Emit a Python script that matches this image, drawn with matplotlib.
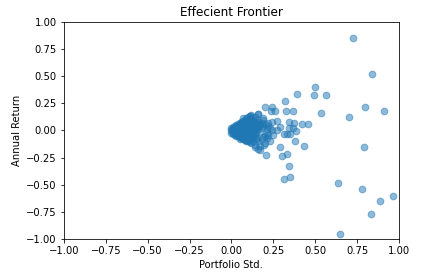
import matplotlib
matplotlib.use("Agg")
import matplotlib.pyplot as plt

# dense cluster near the origin
cluster_std = [0.00, 0.00, 0.00, 0.01, 0.01, 0.01, 0.02, 0.02, 0.02, 0.02,
               0.03, 0.03, 0.03, 0.03, 0.04, 0.04, 0.04, 0.04, 0.04, 0.05,
               0.05, 0.05, 0.05, 0.05, 0.06, 0.06, 0.06, 0.06, 0.06, 0.06,
               0.07, 0.07, 0.07, 0.07, 0.07, 0.07, 0.08, 0.08, 0.08, 0.08,
               0.08, 0.08, 0.08, 0.09, 0.09, 0.09, 0.09, 0.09, 0.09, 0.09,
               0.10, 0.10, 0.10, 0.10, 0.10, 0.10, 0.10, 0.11, 0.11, 0.11,
               0.11, 0.11, 0.11, 0.12, 0.12, 0.12, 0.12, 0.12, 0.12, 0.13,
               0.13, 0.13, 0.13, 0.13, 0.14, 0.14, 0.14, 0.14, 0.14, 0.14,
               0.15, 0.15, 0.15, 0.15, 0.16, 0.16, 0.16, 0.16, 0.16, 0.17,
               0.17, 0.17, 0.18, 0.18, 0.18, 0.19, 0.19, 0.20, 0.20, 0.21,
               0.22, 0.23, 0.21, 0.07, 0.12, 0.05, 0.09,
               0.005, 0.005, 0.015, 0.015, 0.025, 0.025, 0.025, 0.035, 0.035, 0.035,
               0.045, 0.045, 0.045, 0.045, 0.055, 0.055, 0.055, 0.055, 0.065, 0.065,
               0.065, 0.065, 0.065, 0.075, 0.075, 0.075, 0.075, 0.075, 0.085, 0.085,
               0.085, 0.085, 0.085, 0.095, 0.095, 0.095, 0.095, 0.095, 0.105, 0.105,
               0.105, 0.105, 0.115, 0.115, 0.115, 0.115, 0.125, 0.125, 0.125, 0.135,
               0.135, 0.135, 0.145, 0.145, 0.155, 0.155, 0.165, 0.105, 0.125, 0.145]
cluster_ret = [0.00, 0.02, -0.02, 0.03, -0.03, 0.00, 0.04, -0.04, 0.01, -0.01,
               0.05, -0.05, 0.02, -0.02, 0.06, -0.05, 0.03, -0.03, 0.00, 0.07,
               -0.06, 0.04, -0.03, 0.01, 0.08, -0.07, 0.05, -0.04, 0.02, -0.01,
               0.09, -0.08, 0.06, -0.05, 0.03, -0.02, 0.10, -0.09, 0.07, -0.06,
               0.03, 0.00, -0.03, 0.11, -0.10, 0.08, -0.07, 0.04, -0.04, 0.01,
               0.12, -0.10, 0.08, -0.07, 0.05, -0.03, 0.01, 0.13, -0.11, 0.09,
               -0.06, 0.05, 0.00, 0.11, -0.12, 0.07, -0.08, 0.03, -0.03, 0.10,
               -0.10, 0.06, -0.05, 0.02, 0.12, -0.13, 0.08, 0.04, -0.04, 0.00,
               0.10, -0.08, 0.06, 0.02, 0.15, -0.17, 0.08, 0.03, -0.10, 0.05,
               -0.01, -0.14, 0.07, 0.02, -0.08, 0.10, 0.04, -0.05, 0.06, 0.01,
               0.07, 0.02, -0.02, 0.11, 0.14, -0.08, -0.09,
               0.01, -0.01, 0.02, -0.02, 0.03, 0.00, -0.03, 0.04, 0.01, -0.04,
               0.05, 0.02, -0.01, -0.04, 0.06, 0.03, 0.00, -0.05, 0.07, 0.04,
               0.01, -0.03, -0.06, 0.08, 0.05, 0.01, -0.03, -0.07, 0.09, 0.06,
               0.02, -0.02, -0.05, 0.10, 0.06, 0.03, -0.01, -0.06, 0.10, 0.07,
               0.03, -0.05, 0.10, 0.07, 0.02, -0.04, 0.09, 0.05, -0.01, 0.08,
               0.04, -0.02, 0.07, -0.02, 0.04, 0.00, 0.06, -0.09, -0.06, -0.07]

# scattered portfolios further out
outer_std = [0.728, 0.842, 0.50, 0.496, 0.567, 0.394, 0.322, 0.80, 0.913, 0.70,
             0.537, 0.46, 0.42, 0.203, 0.245, 0.235, 0.263, 0.326, 0.37, 0.342,
             0.374, 0.29, 0.342, 0.366, 0.388, 0.314, 0.334, 0.352, 0.245, 0.27,
             0.24, 0.25, 0.22, 0.27, 0.29, 0.378, 0.434, 0.794, 0.209, 0.304,
             0.334, 0.342, 0.314, 0.352, 0.639, 0.782, 0.963, 0.89, 0.836, 0.651,
             0.20, 0.195, 0.17, 0.14, 0.19, 0.16, 0.11, 0.22, 0.19, 0.21, 0.23]
outer_ret = [0.848, 0.516, 0.40, 0.33, 0.323, 0.34, 0.27, 0.22, 0.175, 0.12,
             0.157, 0.055, 0.055, 0.22, 0.22, 0.175, 0.175, 0.175, 0.175, 0.074,
             0.065, 0.03, 0.018, 0.025, -0.006, -0.037, -0.037, -0.03, 0.074, 0.086,
             0.003, -0.043, -0.043, 0.0, -0.154, -0.10, -0.147, -0.154, -0.227, -0.24,
             -0.218, -0.33, -0.45, -0.433, -0.485, -0.544, -0.608, -0.654, -0.771, -0.958,
             -0.12, -0.138, -0.18, -0.15, 0.11, 0.15, 0.13, 0.04, -0.06, -0.07, -0.10]

port_std = cluster_std + outer_std
port_ret = cluster_ret + outer_ret

fig = plt.figure(figsize=(423 / 72, 274 / 72), dpi=72)
ax = fig.add_axes([0.151, 0.128, 0.792, 0.792])

ax.scatter(port_std, port_ret, s=45, alpha=0.5)

ax.set_xlim(-1, 1)
ax.set_ylim(-1, 1)
ax.set_title("Effecient Frontier")
ax.set_xlabel("Portfolio Std.")
ax.set_ylabel("Annual Return")

fig.savefig("out.png", dpi=72)
